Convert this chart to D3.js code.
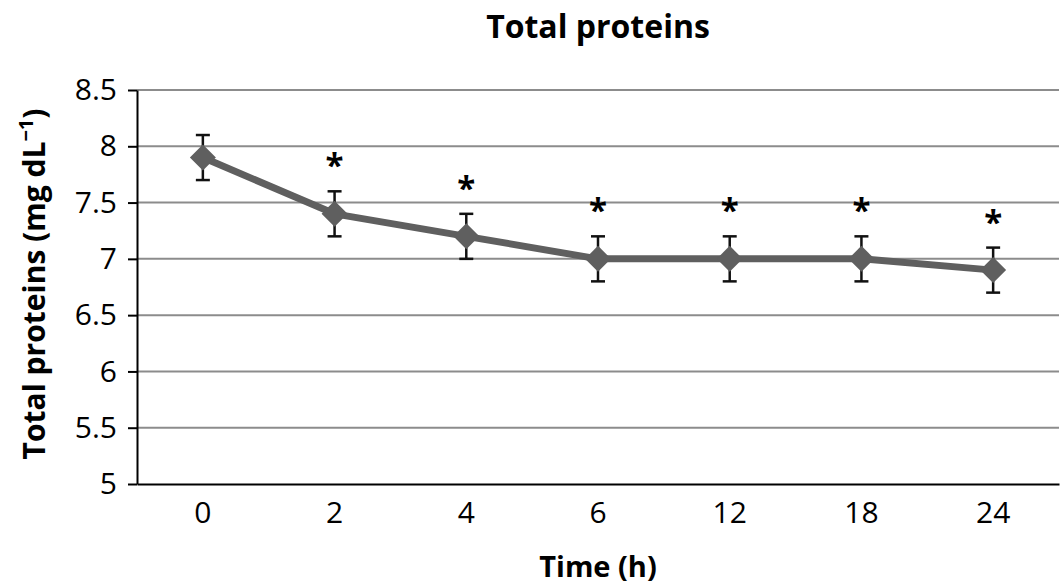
<!DOCTYPE html>
<html>
<head>
<meta charset="utf-8">
<script src="https://cdn.jsdelivr.net/npm/d3@7"></script>
<style>
  body { margin: 0; background: #fff; }
  text { font-family: "Open Sans", "Noto Sans", sans-serif; }
</style>
</head>
<body>
<div id="chart"></div>
<script>
// data
var times = ["0", "2", "4", "6", "12", "18", "24"];
var means = [7.9, 7.4, 7.2, 7.0, 7.0, 7.0, 6.9];
var errs = [0.2, 0.2, 0.2, 0.2, 0.2, 0.2, 0.2];
var signif = [false, true, true, true, true, true, true];
var yTicks = [5, 5.5, 6, 6.5, 7, 7.5, 8, 8.5];

var W = 1064, H = 587;
var margin = {top: 90, right: 5, bottom: 103, left: 137},
    width = W - margin.left - margin.right,
    height = H - margin.top - margin.bottom;

var svg = d3.select("#chart")
  .append("svg")
    .attr("width", W)
    .attr("height", H)
  .append("g")
    .attr("transform", "translate(" + margin.left + "," + margin.top + ")");

var x = d3.scaleBand()
  .domain(times)
  .range([0, width]);

var y = d3.scaleLinear()
  .domain([5, 8.5])
  .range([height, 0]);

// gridlines
svg.append("g")
  .selectAll("line")
  .data(yTicks.slice(1))
  .join("line")
    .attr("x1", 0)
    .attr("x2", width)
    .attr("y1", d => y(d))
    .attr("y2", d => y(d))
    .attr("stroke", "#8c8c8c")
    .attr("stroke-width", 2);

// y axis
var yAxisG = svg.append("g")
  .call(d3.axisLeft(y).tickValues(yTicks).tickSize(9).tickSizeOuter(0).tickFormat(d3.format("")));
yAxisG.select(".domain").attr("stroke", "#000").attr("stroke-width", 2);
yAxisG.selectAll(".tick line").attr("stroke", "#000").attr("stroke-width", 2);
yAxisG.selectAll(".tick text")
  .attr("font-size", 30)
  .attr("fill", "#000")
  .attr("x", -20)
  .attr("font-family", "Open Sans, sans-serif");

// x axis
var xAxisG = svg.append("g")
  .attr("transform", "translate(0," + height + ")")
  .call(d3.axisBottom(x).tickSize(0).tickSizeOuter(0));
xAxisG.select(".domain").attr("stroke", "#000").attr("stroke-width", 2);
xAxisG.selectAll(".tick text")
  .attr("font-size", 30)
  .attr("fill", "#000")
  .attr("y", 39)
  .attr("dy", 0)
  .attr("font-family", "Open Sans, sans-serif");

var pts = times.map((t, i) => ({t: t, m: means[i], e: errs[i], s: signif[i]}));
var cx = d => x(d.t) + x.bandwidth() / 2;

// line
svg.append("path")
  .datum(pts)
  .attr("fill", "none")
  .attr("stroke", "#5f5f5f")
  .attr("stroke-width", 7)
  .attr("stroke-linejoin", "round")
  .attr("d", d3.line().x(cx).y(d => y(d.m)));

// error bars
var eb = svg.append("g")
  .attr("stroke", "#111")
  .attr("stroke-width", 2.5);
eb.selectAll(".v")
  .data(pts)
  .join("line")
    .attr("x1", cx).attr("x2", cx)
    .attr("y1", d => y(d.m - d.e))
    .attr("y2", d => y(d.m + d.e));
eb.selectAll(".capT")
  .data(pts)
  .join("line")
    .attr("class", "capT")
    .attr("x1", d => cx(d) - 7).attr("x2", d => cx(d) + 7)
    .attr("y1", d => y(d.m + d.e)).attr("y2", d => y(d.m + d.e));
eb.selectAll(".capB")
  .data(pts)
  .join("line")
    .attr("class", "capB")
    .attr("x1", d => cx(d) - 7).attr("x2", d => cx(d) + 7)
    .attr("y1", d => y(d.m - d.e)).attr("y2", d => y(d.m - d.e));

// diamond markers
svg.append("g")
  .selectAll("path")
  .data(pts)
  .join("path")
    .attr("transform", d => "translate(" + cx(d) + "," + y(d.m) + ")")
    .attr("d", "M0,-13L13,0L0,13L-13,0Z")
    .attr("fill", "#5f5f5f");

// significance stars
svg.append("g")
  .selectAll("text")
  .data(pts.filter(d => d.s))
  .join("text")
    .attr("x", cx)
    .attr("y", d => y(d.m + d.e) - 14)
    .attr("text-anchor", "middle")
    .attr("font-size", 33)
    .attr("font-weight", 700)
    .text("*");

// titles
svg.append("text")
  .attr("x", width / 2)
  .attr("y", -52)
  .attr("text-anchor", "middle")
  .attr("font-size", 32)
  .attr("font-weight", 700)
  .text("Total proteins");

svg.append("text")
  .attr("x", width / 2)
  .attr("y", height + 93)
  .attr("text-anchor", "middle")
  .attr("font-size", 29)
  .attr("font-weight", 700)
  .text("Time (h)");

var yl = svg.append("text")
  .attr("transform", "rotate(-90)")
  .attr("x", -(height / 2) + 3)
  .attr("y", -92)
  .attr("text-anchor", "middle")
  .attr("font-size", 30)
  .attr("font-weight", 700);
yl.append("tspan").text("Total proteins (mg dL");
yl.append("tspan").attr("font-size", 20).attr("dy", -12).text("\u22121");
yl.append("tspan").attr("dy", 12).text(")");
</script>
</body>
</html>
